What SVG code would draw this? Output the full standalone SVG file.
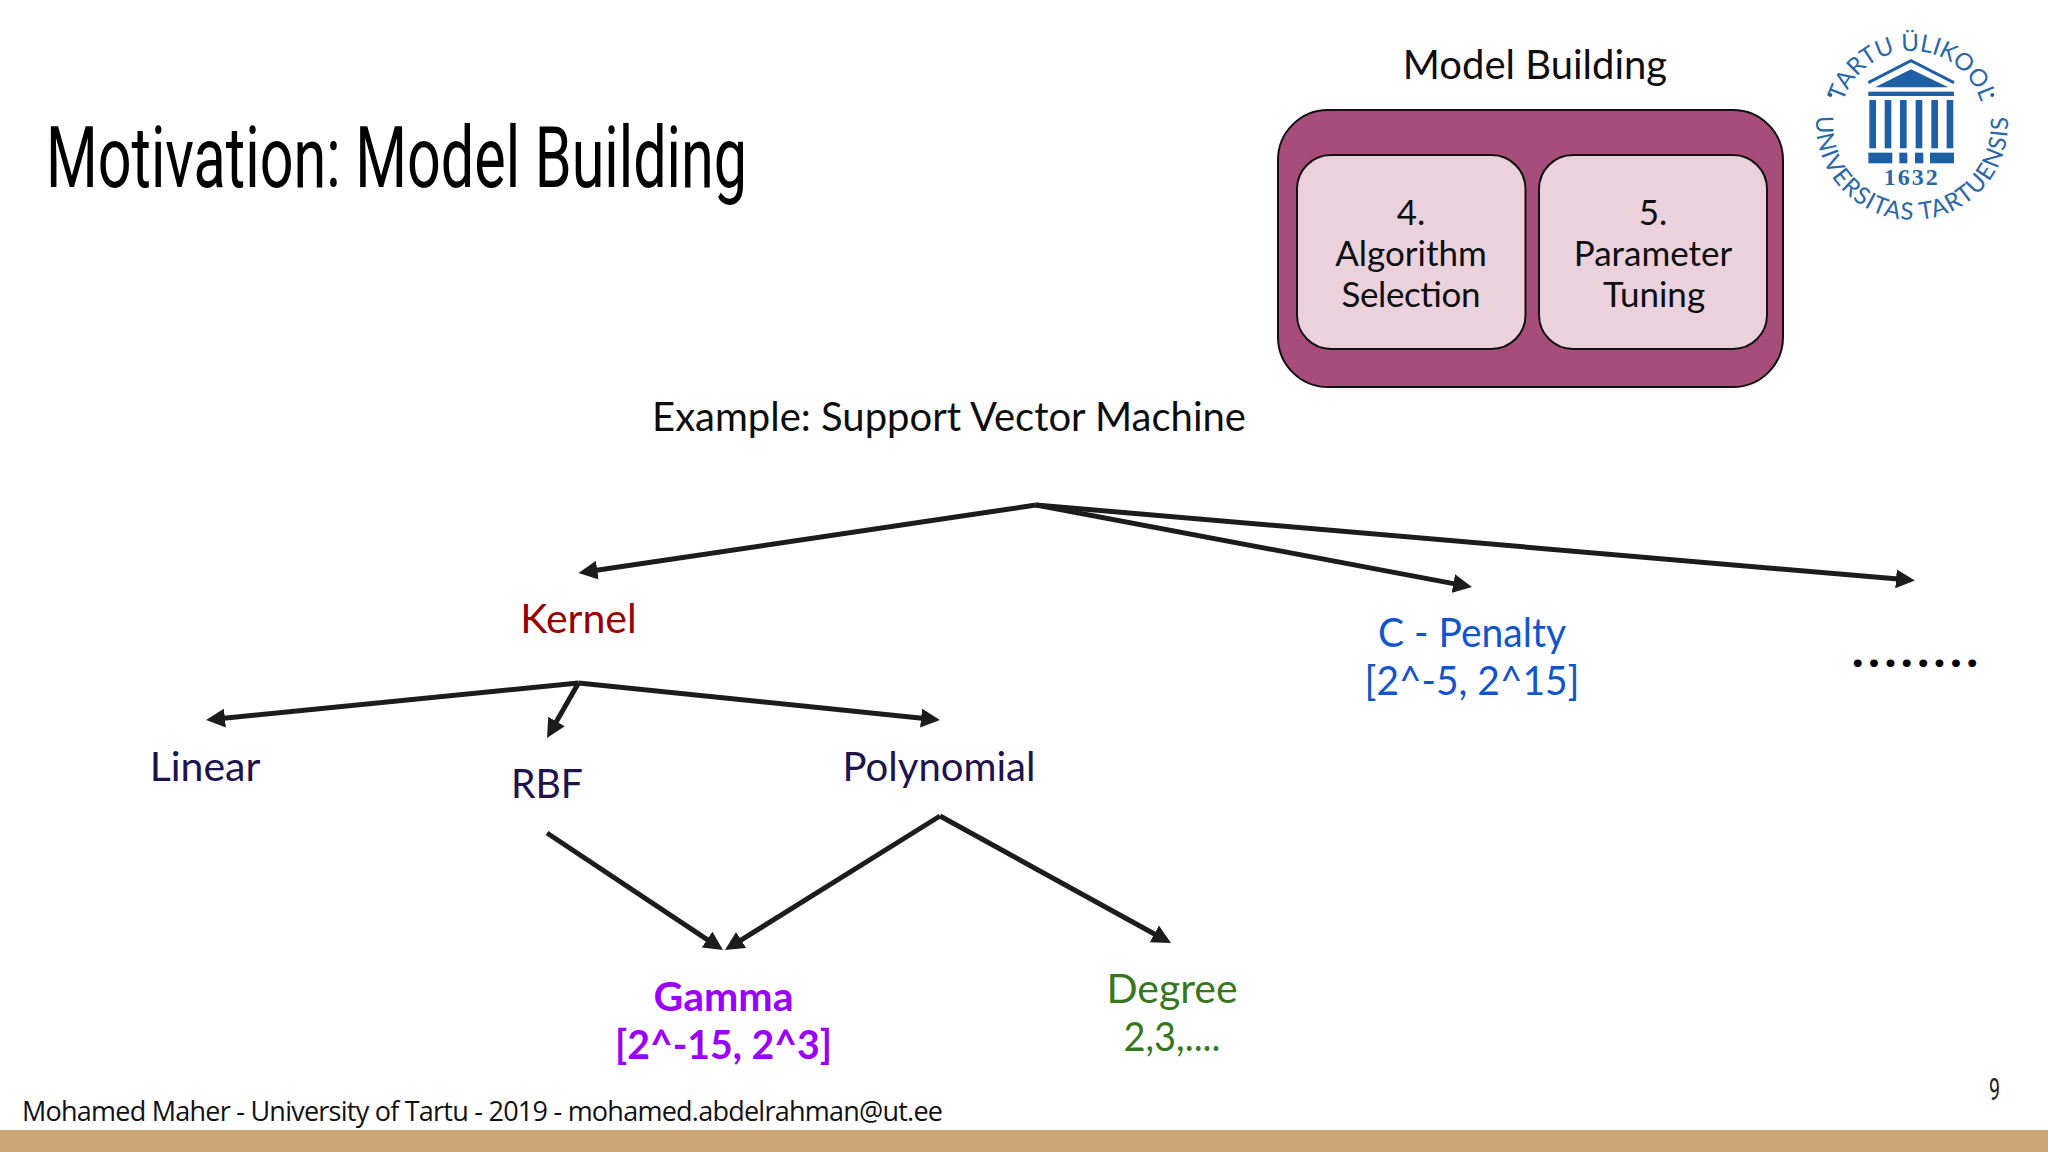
<svg xmlns="http://www.w3.org/2000/svg" width="2048" height="1152" viewBox="0 0 2048 1152">
<style>
text{font-family:"Lato","Noto Sans",sans-serif}
.c{text-anchor:middle}
.t{font-size:40px;fill:#0d0d0d}
.box{font-size:35px;fill:#0d0d0d;text-anchor:middle}
.l{font-size:41px;text-anchor:middle}
.b{font-weight:700}
.arrow{fill:none;stroke:#1c1c1c;stroke-width:5}
.logo{fill:#1f5fa6}
.seal{font-size:24px;fill:#2a66a8;text-anchor:middle}
</style>
<defs>
<marker id="ah" markerUnits="userSpaceOnUse" markerWidth="19" markerHeight="19" viewBox="0 0 19 19" refX="11" refY="9.500" orient="auto"><path d="M0 0L19 9.500L0 19Z" fill="#1c1c1c"/></marker>
<path id="arcTop" d="M1840 123A72 72 0 0 1 1984 123"/>
<path id="arcBot" d="M1817 110A96 96 0 1 0 2007 110"/>
</defs>
<rect width="2048" height="1152" fill="#fff"/>
<rect id="band" y="1130" width="2048" height="22" fill="#cca677"/>
<text id="title" x="46" y="187" font-size="86" font-weight="400" textLength="701" lengthAdjust="spacingAndGlyphs" style="font-family:'Roboto',sans-serif" fill="#000">Motivation: Model Building</text>
<g id="logo">
<text class="seal"><textPath href="#arcTop" startOffset="50%">TARTU ÜLIKOOL</textPath></text>
<text class="seal" letter-spacing="1"><textPath href="#arcBot" startOffset="50%">UNIVERSITAS TARTUENSIS</textPath></text>
<g transform="translate(1780 0) scale(.3333)">
<path d="M265 248L393 182L522 248" fill="none" stroke="#1f5fa6" stroke-width="9"/>
<path class="logo" d="M285 262L393 208L505 262Z"/>
<rect class="logo" x="265" y="275" width="257" height="13"/>
<rect class="logo" x="268" y="300" width="20" height="145"/><rect class="logo" x="314" y="300" width="20" height="145"/><rect class="logo" x="360" y="300" width="20" height="145"/><rect class="logo" x="407" y="300" width="20" height="145"/><rect class="logo" x="454" y="300" width="20" height="145"/><rect class="logo" x="500" y="300" width="20" height="145"/>
<rect class="logo" x="265" y="458" width="72" height="32"/><rect class="logo" x="358" y="458" width="24" height="32"/><rect class="logo" x="405" y="458" width="25" height="32"/><rect class="logo" x="450" y="458" width="72" height="32"/>
<circle class="logo" cx="151" cy="285" r="6"/><circle class="logo" cx="637" cy="285" r="6"/>
<text x="395" y="555" font-size="72" font-weight="700" letter-spacing="6" text-anchor="middle" style="font-family:'Liberation Serif',serif" fill="#2a66a8">1632</text>
</g>
</g>
<g id="model-building">
<text class="t c" x="1535" y="79">Model Building</text>
<rect x="1278" y="110" width="505" height="277" rx="50" fill="#a64d79" stroke="#111" stroke-width="2"/>
</g>
<g id="algorithm-selection">
<rect x="1297" y="155" width="228.500" height="194" rx="34" fill="#ead1dc" stroke="#111" stroke-width="2"/>
<text class="box" x="1411" y="225">4.</text><text class="box" x="1411" y="266">Algorithm</text><text class="box" x="1411" y="307" textLength="139">Selection</text>
</g>
<g id="parameter-tuning">
<rect x="1539" y="155" width="228" height="194" rx="34" fill="#ead1dc" stroke="#111" stroke-width="2"/>
<text class="box" x="1653" y="225">5.</text><text class="box" x="1653" y="266">Parameter</text><text class="box" x="1654" y="307">Tuning</text>
</g>
<text id="example" class="t c" x="949" y="431">Example: Support Vector Machine</text>
<g id="connectors">
<path class="arrow" marker-end="url(#ah)" d="M1036 505L586.400 571.800"/>
<path class="arrow" marker-end="url(#ah)" d="M1036 505L1464.100 585.600"/>
<path class="arrow" marker-end="url(#ah)" d="M1036 505L1907 579.800"/>
<path class="arrow" marker-end="url(#ah)" d="M578.500 683L214 719.200"/>
<path class="arrow" marker-end="url(#ah)" d="M578.500 683L551 731"/>
<path class="arrow" marker-end="url(#ah)" d="M578.500 683L932 719.200"/>
<path class="arrow" marker-end="url(#ah)" d="M547 833L716.300 945.600"/>
<path class="arrow" marker-end="url(#ah)" d="M940 816L731.800 945.800"/>
<path class="arrow" marker-end="url(#ah)" d="M940 816L1164 939.200"/>
</g>
<g id="kernel"><text class="l" x="578.500" y="633" fill="#980000">Kernel</text></g>
<g id="c-penalty"><text class="l" x="1472" y="646.500" textLength="188" lengthAdjust="spacingAndGlyphs" fill="#1155cc">C - Penalty</text><text class="l" x="1472" y="695" textLength="215" lengthAdjust="spacingAndGlyphs" fill="#1155cc">[2^-5, 2^15]</text></g>
<g id="more"><text x="1852" y="667" font-size="48" font-weight="900" textLength="126" fill="#000">........</text></g>
<g id="linear"><text class="l" x="205" y="781" fill="#20124d">Linear</text></g>
<g id="rbf"><text class="l" x="547" y="798" textLength="72" lengthAdjust="spacingAndGlyphs" fill="#20124d">RBF</text></g>
<g id="polynomial"><text class="l" x="939" y="781" textLength="193" lengthAdjust="spacingAndGlyphs" fill="#20124d">Polynomial</text></g>
<g id="gamma"><text class="l b" x="723.500" y="1011" fill="#9900ff">Gamma</text><text class="l b" x="723.500" y="1059" textLength="217" lengthAdjust="spacingAndGlyphs" fill="#9900ff">[2^-15, 2^3]</text></g>
<g id="degree"><text class="l" x="1172" y="1003" fill="#38761d">Degree</text><text class="l" x="1172" y="1051" textLength="97" lengthAdjust="spacingAndGlyphs" fill="#38761d">2,3,....</text></g>
<text id="footer" x="22" y="1121" font-size="27" textLength="921" style="font-family:'Open Sans',sans-serif" fill="#111">Mohamed Maher - University of Tartu - 2019 - mohamed.abdelrahman@ut.ee</text>
<text id="page" x="1989" y="1100" font-size="32" textLength="11" lengthAdjust="spacingAndGlyphs" style="font-family:'Roboto',sans-serif" fill="#222">9</text>
</svg>
